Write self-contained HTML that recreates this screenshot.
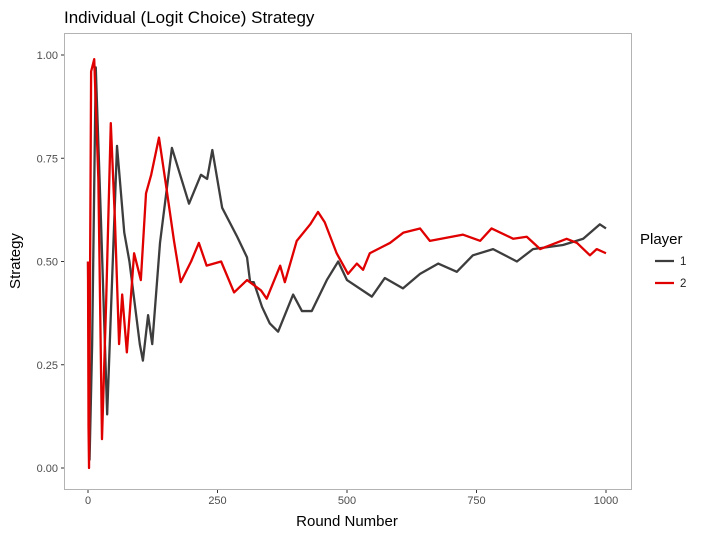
<!DOCTYPE html>
<html><head><meta charset="utf-8"><style>
body{margin:0;background:#fff;font-family:"Liberation Sans",sans-serif}
svg text{font-family:"Liberation Sans",sans-serif}
</style></head><body>
<svg id="chart" width="715" height="534" xmlns="http://www.w3.org/2000/svg">
<rect width="715" height="534" fill="#fff"/>
<text x="64" y="23" font-size="17" fill="#000">Individual (Logit Choice) Strategy</text>
<rect x="64.5" y="33.5" width="567" height="456" fill="#fff" stroke="#b3b3b3" stroke-width="1"/>
<g id="yticks"></g><g id="xticks"></g>
<g id="series"></g>
<text x="347" y="526" font-size="15" text-anchor="middle">Round Number</text>
<text transform="translate(20,261) rotate(-90)" font-size="15" text-anchor="middle">Strategy</text>
<g>
<text x="640" y="244" font-size="15">Player</text>
<line x1="655" y1="261" x2="674" y2="261" stroke="#3d3d3d" stroke-width="2.3"/>
<text x="680" y="265" font-size="11.5" fill="#222">1</text>
<line x1="655" y1="283" x2="674" y2="283" stroke="#e00000" stroke-width="2.3"/>
<text x="680" y="287" font-size="11.5" fill="#222">2</text>
</g>
</svg>
<script>
const xTicks=[0,250,500,750,1000];
const yTicks=[0,0.25,0.5,0.75,1];
const yTickLabels=["0.00","0.25","0.50","0.75","1.00"];
const p1Rounds=[0,3,8,15,25,37,56,70,80,100,106,116,124,139,162,195,218,230,240,259,288,307,313,320,336,351,367,396,413,432,461,483,500,548,573,608,641,676,712,743,782,828,859,917,956,988,1000];
const p1Values=[0.5,0.02,0.3,0.97,0.6,0.13,0.78,0.57,0.5,0.3,0.26,0.37,0.3,0.545,0.775,0.64,0.71,0.7,0.77,0.63,0.56,0.51,0.45,0.45,0.39,0.35,0.33,0.42,0.38,0.38,0.455,0.5,0.455,0.415,0.46,0.435,0.47,0.495,0.475,0.515,0.53,0.5,0.53,0.54,0.555,0.59,0.58];
const p2Rounds=[0,1,2,6,12,20,27,35,44,52,60,66,75,89,102,112,122,137,150,166,179,199,214,229,257,282,307,334,345,371,380,403,429,444,457,480,502,519,531,544,583,609,641,660,724,757,779,821,847,873,924,944,969,982,1000];
const p2Values=[0.5,0.1,0.0,0.96,0.99,0.7,0.07,0.4,0.835,0.6,0.3,0.42,0.28,0.52,0.455,0.665,0.71,0.8,0.69,0.55,0.45,0.5,0.545,0.49,0.5,0.425,0.455,0.43,0.41,0.49,0.45,0.55,0.59,0.62,0.595,0.52,0.47,0.495,0.48,0.52,0.545,0.57,0.58,0.55,0.565,0.55,0.58,0.555,0.56,0.53,0.555,0.545,0.515,0.53,0.52];
const X=v=>88+v*0.518, Y=v=>468-v*413;
const NS="http://www.w3.org/2000/svg";
const yt=document.getElementById('yticks'), xt=document.getElementById('xticks'), sg=document.getElementById('series');
yTicks.forEach((v,i)=>{
 const l=document.createElementNS(NS,'line');
 
 
 l.setAttribute('x1',61);l.setAttribute('x2',64);l.setAttribute('y1',Y(v));l.setAttribute('y2',Y(v));l.setAttribute('stroke','#333');
 yt.appendChild(l);
 const t=document.createElementNS(NS,'text');
 
 
 t.setAttribute('x',58);t.setAttribute('y',Y(v)+4);t.setAttribute('text-anchor','end');t.setAttribute('font-size','11');t.setAttribute('fill','#4d4d4d');
 t.textContent=yTickLabels[i];yt.appendChild(t);
});
xTicks.forEach(v=>{
 const l=document.createElementNS(NS,'line');
 
 
 l.setAttribute('x1',X(v));l.setAttribute('x2',X(v));l.setAttribute('y1',490);l.setAttribute('y2',493);l.setAttribute('stroke','#333');
 xt.appendChild(l);
 const t=document.createElementNS(NS,'text');
 
 
 t.setAttribute('x',X(v));t.setAttribute('y',504);t.setAttribute('text-anchor','middle');t.setAttribute('font-size','11');t.setAttribute('fill','#4d4d4d');
 t.textContent=v;xt.appendChild(t);
});
function line(rs,vs,color,name){
 const p=document.createElementNS(NS,'polyline');
 
 
 p.setAttribute('points',rs.map((r,i)=>X(r)+','+Y(vs[i])).join(' '));
 p.setAttribute('fill','none');p.setAttribute('stroke',color);p.setAttribute('stroke-width','2.3');p.setAttribute('stroke-linejoin','round');
 sg.appendChild(p);
}
line(p1Rounds,p1Values,'#3d3d3d','player-1-line');
line(p2Rounds,p2Values,'#e00000','player-2-line');
</script>
</body></html>
